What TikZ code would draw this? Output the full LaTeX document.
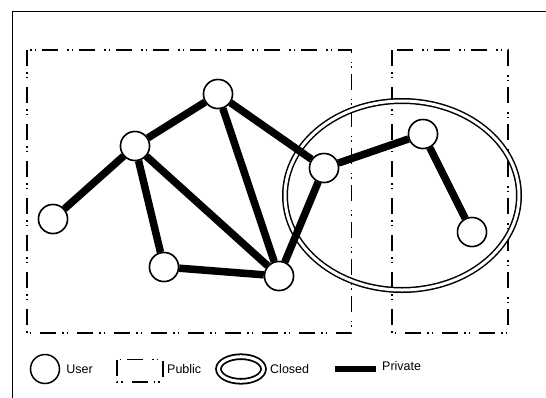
\documentclass[tikz,border=0pt]{standalone}
\usepackage{fontspec}
\setmainfont{Liberation Sans}
\usetikzlibrary{positioning}

\tikzset{
	user/.style={circle,draw,fill=white,line width=1.5pt,minimum size=29pt,inner sep=0pt},
	private/.style={line width=7.5pt},
	public/.style={line width=1.1pt,dash pattern=on 16pt off 6pt on 1.5pt off 3pt on 1.5pt off 9pt},
	closed/.style={draw,double,double distance=3pt,line width=1.5pt},
	legend/.style={inner sep=0pt,font=\fontsize{12.5}{15}\selectfont}
}

\begin{document}
\begin{tikzpicture}[x=1pt,y=-1pt]
		\useasboundingbox (0,0) rectangle (546,397);
		\clip (0,0) rectangle (546,397);
		% outer frame
		\draw[line width=1.5pt] (12.5,11.5) rectangle (560,410);
		% public areas
		\draw[public] (27,50) rectangle (351.5,333);
		\draw[public] (392,50) rectangle (508,333);
		% closed group
		\draw[closed] (402,195.5) ellipse (117 and 94.5);
		% users
		\node[user] (A) at (218,94) {};
		\node[user] (B) at (135,146) {};
		\node[user] (C) at (53,219) {};
		\node[user] (D) at (164,267) {};
		\node[user] (E) at (279,276) {};
		\node[user] (F) at (324,168) {};
		\node[user] (G) at (423,134) {};
		\node[user] (H) at (472,232) {};
		% private links
		\path[private,draw] (C) -- (B) (B) -- (A) (A) -- (F) (A) -- (E)
			(B) -- (D) (B) -- (E) (D) -- (E) (E) -- (F) (F) -- (G) (G) -- (H);
		% redraw users on top of the links
		\foreach \u in {A,B,C,D,E,F,G,H}
			\node[user] at (\u) {};
		%\draw[red] (0,369) -- (546,369);
		% legend
		\node[user] (lguser) at (45,369) {};
		\node[legend,right=6pt of lguser.east] (txuser) {User};
		\draw[public] (117,359.5) rectangle (163,382);
		\coordinate (lgpublic) at (163,369);
		\node[legend,right=4pt of lgpublic] (txpublic) {Public};
		\draw[closed,line width=1.8pt] (241,369) ellipse (22.5 and 12.3);
		\coordinate (lgclosed) at (265,369);
		\node[legend,right=5pt of lgclosed] (txclosed) {Closed};
		\coordinate (lgprivateA) at (335,369);
		\coordinate (lgprivateB) at (376,369);
		\draw[line width=6pt] (lgprivateA) -- (lgprivateB);
		\node[legend,right=6pt of lgprivateB,yshift=3pt] (txprivate) {Private};
	\end{tikzpicture}
\end{document}
